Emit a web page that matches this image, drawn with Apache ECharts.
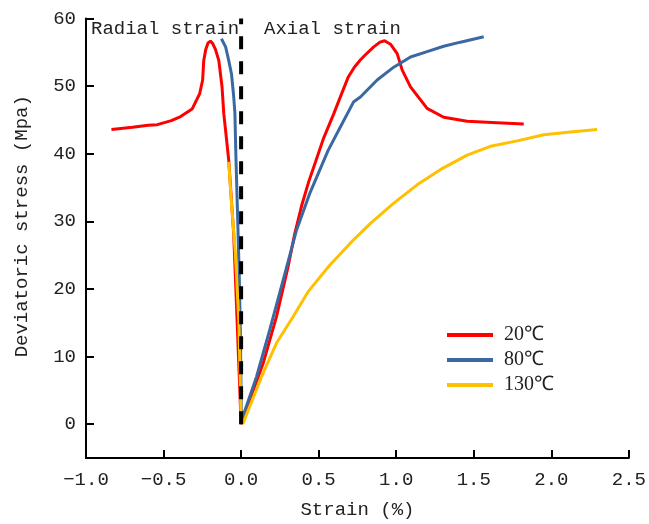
<!DOCTYPE html>
<html>
<head>
<meta charset="utf-8">
<script src="https://cdn.jsdelivr.net/npm/echarts@6/dist/echarts.min.js"></script>
<style>html,body{margin:0;padding:0;background:#fff;}#main{width:649px;height:524px;}</style>
</head>
<body>
<div id="main"></div>
<script>
// ---- data (strain %, deviatoric stress MPa) ----
const seriesNames = ['20℃', '80℃', '130℃'];
const strain20 = [-0.836,-0.70,-0.60,-0.54,-0.45,-0.39,-0.316,-0.267,-0.248,-0.241,-0.228,-0.213,-0.198,-0.183,-0.165,-0.144,-0.123,-0.112,-0.08,-0.048,-0.026,0,
                  0.142,0.228,0.303,0.346,0.39,0.435,0.48,0.53,0.597,0.65,0.69,0.73,0.77,0.80,0.855,0.895,0.925,0.963,1.006,1.038,1.092,1.199,1.306,1.457,1.65,1.822];
const stress20 = [43.6,43.9,44.2,44.3,44.9,45.5,46.6,48.9,50.9,53.8,55.4,56.4,56.65,56.3,55.4,53.8,49.9,46.0,39.1,28.2,15.4,0,
                  9.0,15.9,23.3,28.2,32.3,35.8,38.8,42.2,45.9,49.0,51.3,52.8,53.9,54.6,55.8,56.5,56.7,56.2,54.8,52.4,49.9,46.7,45.4,44.8,44.6,44.4];
const strain80 = [-0.127,-0.10,-0.08,-0.062,-0.048,-0.04,-0.034,-0.022,-0.012,-0.005,0.002,
                  0.013,0.099,0.184,0.271,0.357,0.442,0.561,0.65,0.726,0.769,0.877,0.984,1.092,1.199,1.306,1.414,1.564];
const stress80 = [57.0,55.8,53.8,51.8,48.5,46.0,40.0,30.2,22.0,14.0,0.5,
                  0.4,7.0,13.9,21.3,28.7,34.1,40.5,44.4,47.7,48.4,50.9,52.8,54.3,55.1,55.9,56.5,57.3];
const strain130 = [-0.08,-0.06,-0.037,-0.015,-0.005,0,
                   0.013,0.131,0.228,0.335,0.432,0.571,0.722,0.834,0.984,1.135,1.296,1.457,1.607,1.78,1.951,2.123,2.295];
const stress130 = [38.8,32.0,25.3,15.4,6.0,0.3,
                   0.15,7.0,12.0,15.9,19.6,23.5,27.2,29.7,32.7,35.4,37.8,39.8,41.1,41.9,42.8,43.2,43.6];
const dividerStrain = [0, 0];
const dividerStress = [0, 60];
const yTicks = [0, 10, 20, 30, 40, 50, 60];

const zip = (xs, ys) => xs.map((x, i) => [x, ys[i]]);
const colors = ['#FF0000', '#3A69A1', '#FFC000'];
const mono = 'Liberation Mono';

const chart = echarts.init(document.getElementById('main'), null, {renderer: 'canvas'});
chart.setOption({
  animation: false,
  backgroundColor: '#fff',
  grid: {left: 86, right: 20, top: 18.5, bottom: 65.3, containLabel: false},
  xAxis: {
    type: 'value', min: -1, max: 2.5, interval: 0.5,
    name: 'Strain (%)', nameLocation: 'middle', nameGap: 42,
    nameTextStyle: {fontFamily: mono, fontSize: 19, color: '#222'},
    axisLine: {show: true, onZero: false, lineStyle: {color: '#000', width: 2}},
    axisTick: {show: true, inside: true, length: 8, lineStyle: {color: '#000', width: 2}},
    axisLabel: {fontFamily: mono, fontSize: 19, color: '#222', margin: 12,
      formatter: v => v.toFixed(1).replace('-', '−')},
    splitLine: {show: false}
  },
  yAxis: {
    type: 'value', min: -5, max: 60,
    name: 'Deviatoric stress (Mpa)', nameLocation: 'middle', nameGap: 55,
    nameTextStyle: {fontFamily: mono, fontSize: 19, color: '#222', padding: [0, 0, 0, 24]},
    axisLine: {show: true, onZero: false, lineStyle: {color: '#000', width: 2}},
    axisTick: {show: true, inside: true, length: 8, customValues: yTicks, lineStyle: {color: '#000', width: 2}},
    axisLabel: {fontFamily: mono, fontSize: 19, color: '#222', margin: 10, customValues: yTicks},
    splitLine: {show: false}
  },
  legend: {
    orient: 'vertical', left: 447, top: 325, itemGap: 5, padding: 0,
    icon: 'rect', itemWidth: 46, itemHeight: 4,
    data: seriesNames,
    textStyle: {fontFamily: 'Liberation Serif', fontSize: 20, color: '#222', padding: [0, 0, 0, 6]}
  },
  graphic: [
    {type: 'text', left: 91, top: 19, style: {text: 'Radial strain', font: '19px "Liberation Mono"', fill: '#222'}},
    {type: 'text', left: 264, top: 19, style: {text: 'Axial strain', font: '19px "Liberation Mono"', fill: '#222'}}
  ],
  series: [
    {name: seriesNames[0], type: 'line', data: zip(strain20, stress20), showSymbol: false, lineStyle: {color: colors[0], width: 3}, itemStyle: {color: colors[0]}},
    {name: seriesNames[1], type: 'line', data: zip(strain80, stress80), showSymbol: false, lineStyle: {color: colors[1], width: 3}, itemStyle: {color: colors[1]}},
    {name: seriesNames[2], type: 'line', data: zip(strain130, stress130), showSymbol: false, lineStyle: {color: colors[2], width: 3}, itemStyle: {color: colors[2]}},
    {name: 'divider', type: 'line', data: zip(dividerStrain, dividerStress), showSymbol: false, silent: true,
     lineStyle: {color: '#000', width: 4, type: [13, 12]}}
  ]
});
</script>
</body>
</html>
